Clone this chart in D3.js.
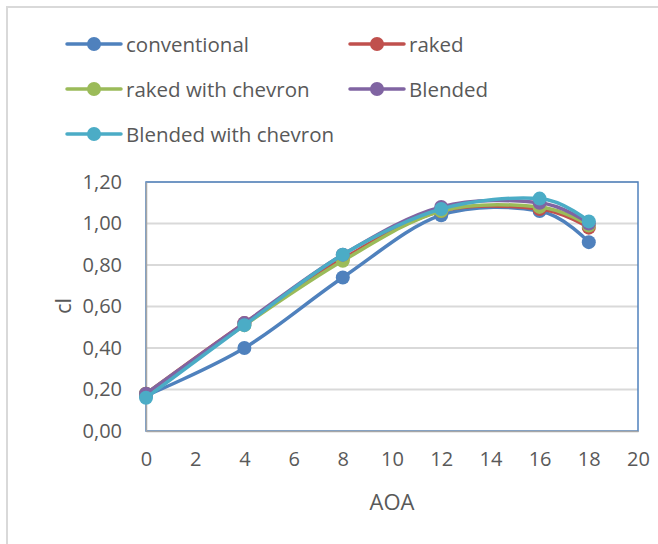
<!DOCTYPE html>
<html><head><meta charset="utf-8">
<script src="https://cdn.jsdelivr.net/npm/d3@7"></script>
<style>
html,body{margin:0;padding:0;background:#fff;}
text{font-family:"Open Sans",sans-serif;fill:#595959;}
</style></head>
<body>
<svg id="chart" width="658" height="544"></svg>
<script>
const aoa = [0, 4, 8, 12, 16, 18];
const seriesNames = ["conventional", "raked", "raked with chevron", "Blended", "Blended with chevron"];
const conventional = [0.17, 0.40, 0.74, 1.04, 1.06, 0.91];
const raked = [0.18, 0.52, 0.83, 1.06, 1.07, 0.98];
const rakedChevron = [0.18, 0.51, 0.82, 1.06, 1.08, 0.99];
const blended = [0.18, 0.52, 0.85, 1.08, 1.10, 1.00];
const blendedChevron = [0.16, 0.51, 0.85, 1.07, 1.12, 1.01];
const xTicks = [0, 2, 4, 6, 8, 10, 12, 14, 16, 18, 20];
const yTicks = [0, 0.2, 0.4, 0.6, 0.8, 1.0, 1.2];
const colors = ["#4F81BD", "#C0504D", "#9BBB59", "#8064A2", "#4BACC6"];

const allValues = [conventional, raked, rakedChevron, blended, blendedChevron];
const series = seriesNames.map((n, i) => ({name: n, color: colors[i], values: aoa.map((a, j) => ({x: a, y: allValues[i][j]}))}));

const svg = d3.select("#chart");
// outer frame
svg.append("rect").attr("x", 7).attr("y", 7).attr("width", 700).attr("height", 600)
  .attr("fill", "none").attr("stroke", "#d9d9d9").attr("stroke-width", 2);

const L = 146, R = 638, T = 182, B = 431;
const x = d3.scaleLinear().domain([0, 20]).range([L, R]);
const y = d3.scaleLinear().domain([0, 1.2]).range([B, T]);
const fmt = d3.formatLocale({decimal: ",", thousands: ".", grouping: [3], currency: ["", ""]}).format(".2f");

// gridlines
svg.append("g").selectAll("line").data(yTicks.slice(1)).join("line")
  .attr("x1", L).attr("x2", R).attr("y1", d => y(d)).attr("y2", d => y(d))
  .attr("stroke", "#d9d9d9").attr("stroke-width", 2);

// plot area border (blue)
svg.append("rect").attr("x", L).attr("y", T).attr("width", R - L).attr("height", B - T)
  .attr("fill", "none").attr("stroke", "#4F81BD").attr("stroke-width", 1.5);

// axes
const yAxis = svg.append("g").attr("transform", `translate(${L},0)`)
  .call(d3.axisLeft(y).tickValues(yTicks).tickFormat(fmt).tickSize(0).tickPadding(24));
const xAxis = svg.append("g").attr("transform", `translate(0,${B})`)
  .call(d3.axisBottom(x).tickValues(xTicks).tickFormat(d3.format("d")).tickSize(0).tickPadding(21));
[yAxis, xAxis].forEach(g => {
  g.select(".domain").attr("stroke", "#a6a6a6").attr("stroke-width", 1.5);
  g.selectAll("text").style("font-size", "20px").attr("fill", "#595959");
});

// axis titles
svg.append("text").attr("transform", "translate(62,306) rotate(-90)")
  .attr("text-anchor", "middle").attr("dominant-baseline", "central")
  .style("font-size", "22px").text("cl");
svg.append("text").attr("x", 392).attr("y", 501)
  .attr("text-anchor", "middle").attr("dominant-baseline", "central")
  .style("font-size", "22px").text("AOA");

// lines
const line = d3.line().x(d => x(d.x)).y(d => y(d.y)).curve(d3.curveCardinal.tension(0));
const g = svg.append("g");
series.forEach(s => {
  g.append("path").datum(s.values).attr("d", line)
    .attr("fill", "none").attr("stroke", s.color).attr("stroke-width", 3.5)
    .attr("stroke-linecap", "round");
  g.selectAll(null).data(s.values).join("circle")
    .attr("cx", d => x(d.x)).attr("cy", d => y(d.y)).attr("r", 7)
    .attr("fill", s.color);
});

// legend
const legendPos = [[67, 44], [350, 44], [67, 89], [350, 89], [67, 134]];
series.forEach((s, i) => {
  const [lx, ly] = legendPos[i];
  const lg = svg.append("g").attr("transform", `translate(${lx},${ly})`);
  lg.append("line").attr("x1", 0).attr("x2", 54).attr("y1", 0).attr("y2", 0)
    .attr("stroke", s.color).attr("stroke-width", 3.5).attr("stroke-linecap", "round");
  lg.append("circle").attr("cx", 27).attr("cy", 0).attr("r", 7).attr("fill", s.color);
  lg.append("text").attr("x", 59).attr("y", 0).attr("dominant-baseline", "central")
    .style("font-size", "20.5px").text(s.name);
});
</script>
</body></html>
